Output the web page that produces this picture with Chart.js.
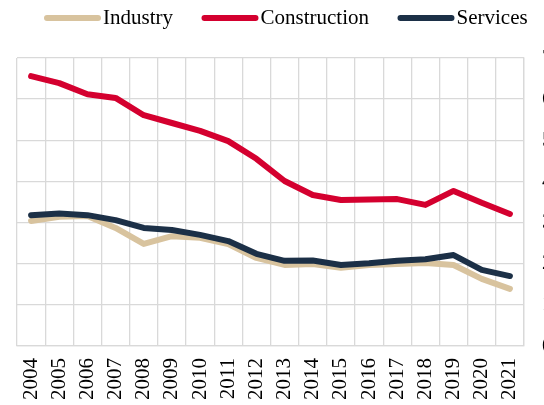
<!DOCTYPE html>
<html>
<head>
<meta charset="utf-8">
<script src="https://cdn.jsdelivr.net/npm/chart.js@4"></script>
<style>
  body { margin: 0; overflow: hidden; background: #fff; }
  #chart { display: block; }
</style>
</head>
<body>
<canvas id="chart" width="552" height="405"></canvas>
<script>
const years = ['2004', '2005', '2006', '2007', '2008', '2009', '2010', '2011', '2012',
  '2013', '2014', '2015', '2016', '2017', '2018', '2019', '2020', '2021'];
const industry = [3.04, 3.14, 3.16, 2.87, 2.48, 2.67, 2.63, 2.48, 2.14,
  1.97, 1.99, 1.90, 1.97, 1.99, 2.02, 1.97, 1.63, 1.39];
const construction = [6.56, 6.39, 6.12, 6.03, 5.61, 5.42, 5.23, 4.98, 4.55,
  4.01, 3.67, 3.55, 3.56, 3.57, 3.43, 3.77, 3.48, 3.21];
const services = [3.18, 3.22, 3.18, 3.06, 2.87, 2.82, 2.70, 2.55, 2.24,
  2.07, 2.08, 1.97, 2.01, 2.07, 2.11, 2.21, 1.85, 1.70];
const yTicks = [0, 1, 2, 3, 4, 5, 6, 7];

const font = '"Liberation Serif", "Times New Roman", serif';
const gridColor = '#d9d9d9';

// legend drawn as thick rounded strokes followed by the label
const lineLegend = {
  id: 'lineLegend',
  afterDraw(chart) {
    let ctx = chart.ctx;
    ctx.save();
    ctx.font = '21px ' + font;
    ctx.textBaseline = 'middle';
    let x = 44, y = 18;
    chart.data.datasets.forEach(ds => {
      ctx.strokeStyle = ds.borderColor;
      ctx.lineWidth = 6;
      ctx.lineCap = 'round';
      ctx.beginPath();
      ctx.moveTo(x + 3, y);
      ctx.lineTo(x + 54, y);
      ctx.stroke();
      ctx.fillStyle = '#000';
      ctx.fillText(ds.label, x + 59, y);
      x += 59 + ctx.measureText(ds.label).width + 28.5;
    });
    ctx.restore();
  },
};

let ctx = document.getElementById('chart').getContext('2d');
let data = {
  labels: years,
  datasets: [{
    label: 'Industry',
    data: industry,
    borderColor: '#d8c39e',
    order: 3,
  }, {
    label: 'Construction',
    data: construction,
    borderColor: '#d4002f',
    order: 2,
  }, {
    label: 'Services',
    data: services,
    borderColor: '#1c3047',
    order: 1,
  }].map(ds => Object.assign(ds, {
    borderWidth: 6,
    pointRadius: 0,
    tension: 0,
    borderCapStyle: 'round',
    borderJoinStyle: 'round',
  })),
};

let chart = new Chart(ctx, {
  type: 'line',
  data,
  plugins: [lineLegend],
  options: {
    responsive: false,
    animation: false,
    layout: { padding: { top: 58, left: 17, right: 0, bottom: 0 } },
    plugins: {
      legend: { display: false },
      tooltip: { enabled: false },
    },
    scales: {
      x: {
        offset: true,
        afterFit: axis => { axis.height = 59; },
        grid: { offset: true, color: gridColor, lineWidth: 1.3, drawTicks: false },
        border: { color: gridColor, width: 1.3 },
        ticks: {
          font: { family: font, size: 21 },
          color: '#000',
          maxRotation: 90,
          minRotation: 90,
          padding: 12,
          autoSkip: false,
        },
      },
      y: {
        position: 'right',
        min: 0,
        max: 7,
        afterBuildTicks: axis => { axis.ticks = yTicks.map(v => ({ value: v })); },
        afterFit: axis => { axis.width = 28; },
        grid: { color: gridColor, lineWidth: 1.3, drawTicks: false },
        border: { color: gridColor, width: 1.3 },
        ticks: {
          font: { family: font, size: 21 },
          color: '#000',
          padding: 18,
        },
      },
    },
  },
});
</script>
</body>
</html>
